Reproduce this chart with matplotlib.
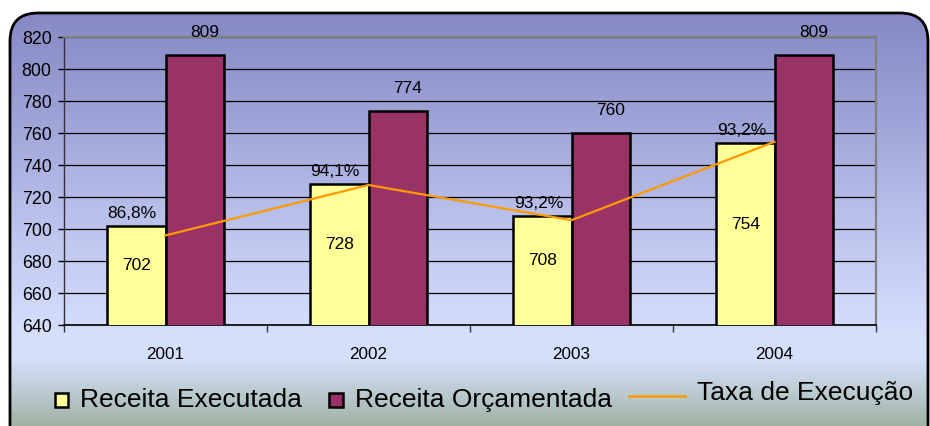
import numpy as np
import matplotlib
matplotlib.use("Agg")
import matplotlib.pyplot as plt
from matplotlib.patches import FancyBboxPatch, Rectangle
from matplotlib.lines import Line2D
from matplotlib.colors import LinearSegmentedColormap

plt.rcParams['font.family'] = ['Liberation Sans', 'DejaVu Sans']

# ---- data ----
years = ["2001", "2002", "2003", "2004"]
receita_executada = [702, 728, 708, 754]
receita_orcamentada = [809, 774, 760, 809]
taxa_labels = ["86,8%", "94,1%", "93,2%", "93,2%"]
taxa_line = [696, 727.5, 705.5, 754.5]   # line as drawn, in left-axis units
yticks = [640, 660, 680, 700, 720, 740, 760, 780, 800, 820]
legend_labels = ["Receita Executada", "Receita Orçamentada", "Taxa de Execução"]

W, H = 930, 426
fig = plt.figure(figsize=(W / 100, H / 100), dpi=100)
fig.patch.set_facecolor("white")

def fx(px):
    return px / W

def fy(py):
    return 1 - py / H

# ---- background rounded box with gradient ----
bg = fig.add_axes([0, 0, 1, 1], zorder=0)
bg.set_xlim(0, W)
bg.set_ylim(H, 0)
bg.axis("off")
stops = [
    (0.00, (134 / 255, 137 / 255, 196 / 255)),
    (0.25, (158 / 255, 163 / 255, 215 / 255)),
    (0.55, (192 / 255, 200 / 255, 240 / 255)),
    (0.77, (213 / 255, 223 / 255, 252 / 255)),
    (0.83, (212 / 255, 223 / 255, 250 / 255)),
    (0.90, (192 / 255, 206 / 255, 215 / 255)),
    (1.00, (158 / 255, 176 / 255, 160 / 255)),
]
cmap = LinearSegmentedColormap.from_list("bggrad", stops)
grad = np.linspace(0, 1, 400).reshape(-1, 1)
box_top, box_bot = 13, 430
im = bg.imshow(grad, cmap=cmap, aspect="auto",
               extent=[0, W, box_bot, box_top], zorder=0)
box = FancyBboxPatch((10, box_top), 918, box_bot + 30 - box_top,
                     boxstyle="round,pad=0,rounding_size=28",
                     facecolor="none", edgecolor="black", linewidth=2.0,
                     zorder=2)
bg.add_patch(box)
im.set_clip_path(box)

# ---- main axes ----
ax = fig.add_axes([fx(64), fy(325), fx(876) - fx(64), fy(37) - fy(325)], zorder=1)
ax.set_facecolor("none")
x = np.arange(len(years))
w = 0.286
ax.bar(x - w / 2, receita_executada, w, color="#FFFF99", edgecolor="black",
       linewidth=1.8, zorder=3)
ax.bar(x + w / 2, receita_orcamentada, w, color="#993366", edgecolor="black",
       linewidth=1.8, zorder=3)
ax.plot(x, taxa_line, color="#FF9900", linewidth=1.6, zorder=4)

ax.set_xlim(-0.5, len(years) - 0.5)
ax.set_ylim(yticks[0], yticks[-1])
ax.set_yticks(yticks)
ax.set_yticklabels([str(v) for v in yticks], fontsize=12.8)
ax.yaxis.grid(True, color="black", linewidth=0.9, zorder=1)
ax.set_axisbelow(True)

ax.set_xticks(np.arange(len(years) + 1) - 0.5)
ax.set_xticklabels([])
ax.set_xticks(x, minor=True)
ax.set_xticklabels(years, minor=True, fontsize=12.3)
ax.tick_params(axis="x", which="minor", length=0, pad=16)
ax.tick_params(axis="x", which="major", length=5, width=1, color="#333333")
ax.tick_params(axis="y", length=4, width=1, pad=5)

for s in ["top", "right"]:
    ax.spines[s].set_color("#808080")
    ax.spines[s].set_linewidth(1.6)
ax.spines["left"].set_color("#333333")
ax.spines["bottom"].set_color("black")
ax.spines["left"].set_linewidth(1.0)
ax.spines["bottom"].set_linewidth(1.2)

# ---- data labels ----
for i in range(len(years)):
    ve, vo = receita_executada[i], receita_orcamentada[i]
    ax.annotate(str(vo), (x[i] + w / 2, vo), xytext=(7, 16),
                textcoords="offset points", ha="center", va="center",
                fontsize=12.5, zorder=5)
    ax.annotate(taxa_labels[i], (x[i] - w / 2, ve), xytext=(-3, 9),
                textcoords="offset points", ha="center", va="center",
                fontsize=12.5, zorder=5)
    ax.annotate(str(ve), (x[i] - w / 2, (yticks[0] + ve) / 2), xytext=(0, 7),
                textcoords="offset points", ha="center", va="center",
                fontsize=12.5, zorder=5)

# ---- legend (drawn manually) ----
lfs = 19
bg.add_patch(Rectangle((55, 393), 13, 14, facecolor="#FFFF99",
                       edgecolor="black", linewidth=1.8, zorder=3))
bg.text(80, 407, legend_labels[0], fontsize=lfs, ha="left", va="baseline", zorder=3)
bg.add_patch(Rectangle((329, 393), 14, 14, facecolor="#993366",
                       edgecolor="black", linewidth=1.8, zorder=3))
bg.text(355, 407, legend_labels[1], fontsize=lfs, ha="left", va="baseline", zorder=3)
bg.add_line(Line2D([629, 685], [396, 396], color="#FF9900", linewidth=1.8, zorder=3))
bg.text(697, 400, legend_labels[2], fontsize=lfs, ha="left", va="baseline", zorder=3)

fig.savefig("out.png", dpi=100)
